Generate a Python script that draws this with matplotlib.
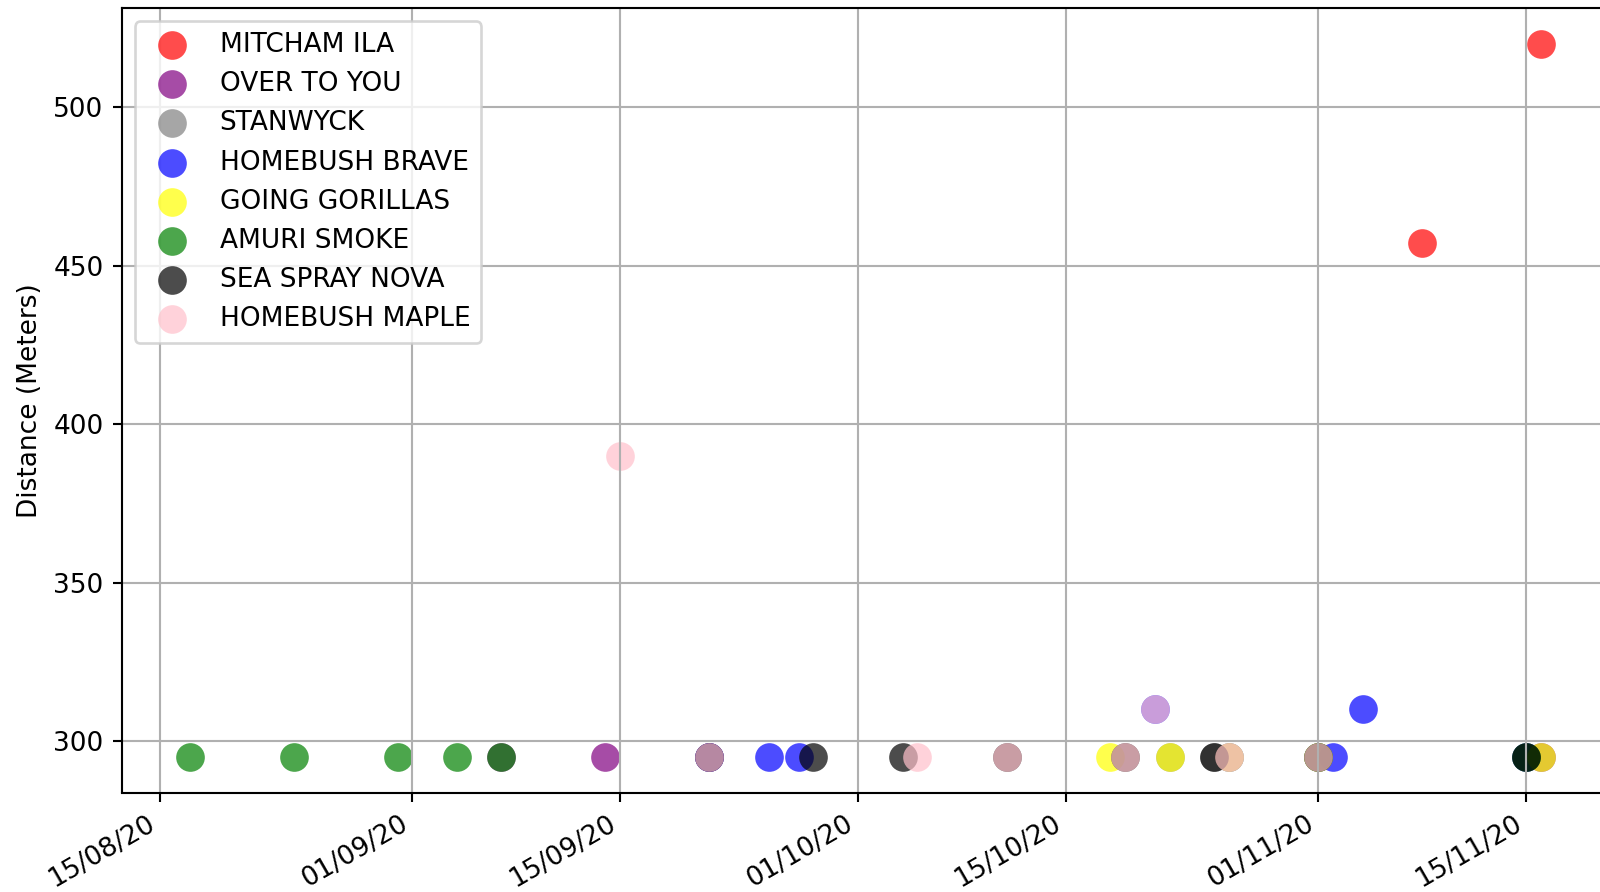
import matplotlib
matplotlib.use("Agg")
import matplotlib.pyplot as plt
import matplotlib.dates as mdates
import pandas as pd

dogs = ["MITCHAM ILA", "OVER TO YOU", "STANWYCK", "HOMEBUSH BRAVE",
        "GOING GORILLAS", "AMURI SMOKE", "SEA SPRAY NOVA", "HOMEBUSH MAPLE"]
colors = ["red", "purple", "grey", "blue", "yellow", "green", "black", "pink"]

mitcham_dates = ["2020-11-08", "2020-11-16"]
mitcham_dist = [457, 520]

overtoyou_dates = ["2020-09-07", "2020-09-14", "2020-09-21", "2020-11-16"]
overtoyou_dist = [295, 295, 295, 295]

stanwyck_dates = ["2020-10-22", "2020-10-25"]
stanwyck_dist = [295, 295]

brave_dates = ["2020-09-21", "2020-09-25", "2020-09-27", "2020-10-21", "2020-10-26",
               "2020-11-02", "2020-11-04", "2020-11-15"]
brave_dist = [295, 295, 295, 310, 295, 295, 310, 295]

gorillas_dates = ["2020-10-18", "2020-10-22", "2020-10-26", "2020-11-01", "2020-11-16"]
gorillas_dist = [295, 295, 295, 295, 295]

amuri_dates = ["2020-08-17", "2020-08-24", "2020-08-31", "2020-09-04", "2020-09-07",
               "2020-11-01", "2020-11-15"]
amuri_dist = [295, 295, 295, 295, 295, 295, 295]

seaspray_dates = ["2020-09-21", "2020-09-28", "2020-10-04", "2020-10-11", "2020-10-19",
                  "2020-10-25", "2020-11-01", "2020-11-15"]
seaspray_dist = [295, 295, 295, 295, 295, 295, 295, 295]

maple_dates = ["2020-09-15", "2020-09-21", "2020-10-05", "2020-10-11", "2020-10-19",
               "2020-10-21", "2020-10-26", "2020-11-01"]
maple_dist = [390, 295, 295, 295, 295, 310, 295, 295]

series = [
    (mitcham_dates, mitcham_dist),
    (overtoyou_dates, overtoyou_dist),
    (stanwyck_dates, stanwyck_dist),
    (brave_dates, brave_dist),
    (gorillas_dates, gorillas_dist),
    (amuri_dates, amuri_dist),
    (seaspray_dates, seaspray_dist),
    (maple_dates, maple_dist),
]

DPI = 190
fig = plt.figure(figsize=(1601 / DPI, 892 / DPI), dpi=DPI)
ax = fig.add_axes([122 / 1601, 99.5 / 892, 1486.8 / 1601, 784.3 / 892])

for name, col, (d, v) in zip(dogs, colors, series):
    ax.scatter(pd.to_datetime(d), v, s=118, color=col, alpha=0.7,
               linewidths=0, label=name)

ax.grid(True)
ax.set_ylabel("Distance (Meters)")
ax.xaxis.set_major_locator(mdates.DayLocator(bymonthday=[1, 15]))
ax.xaxis.set_major_formatter(mdates.DateFormatter("%d/%m/%y"))
for lbl in ax.get_xticklabels():
    lbl.set_rotation(30)
    lbl.set_ha("right")
ax.legend(loc="upper left")

fig.savefig("out.png", dpi=DPI)
